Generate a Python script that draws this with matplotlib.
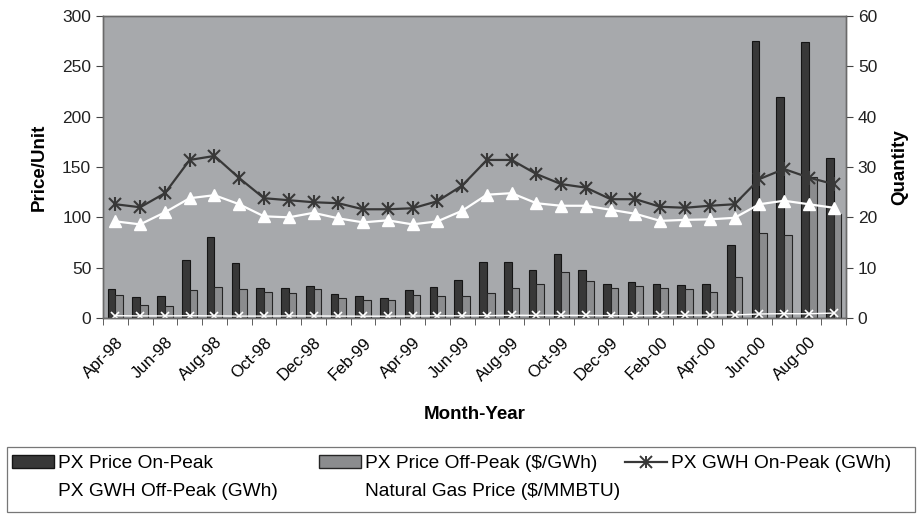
import matplotlib
matplotlib.use("Agg")
import matplotlib.pyplot as plt
import numpy as np
from matplotlib.patches import Patch, Rectangle
from matplotlib.lines import Line2D
from matplotlib.legend_handler import HandlerTuple

plt.rcParams['font.family'] = ['Liberation Sans', 'DejaVu Sans']

months = ["Apr-98", "May-98", "Jun-98", "Jul-98", "Aug-98", "Sep-98", "Oct-98", "Nov-98",
          "Dec-98", "Jan-99", "Feb-99", "Mar-99", "Apr-99", "May-99", "Jun-99", "Jul-99",
          "Aug-99", "Sep-99", "Oct-99", "Nov-99", "Dec-99", "Jan-00", "Feb-00", "Mar-00",
          "Apr-00", "May-00", "Jun-00", "Jul-00", "Aug-00", "Sep-00"]

# Prices (left axis)
price_on_peak = [28.5, 20.5, 21.5, 58, 80.5, 55, 30, 30, 31.5, 24, 21.5, 19.5,
                 28, 31, 38, 56, 56, 47.5, 64, 47.5, 33.5, 35.5, 33.5, 32.5,
                 34, 73, 275, 220, 274, 159]
price_off_peak = [22.5, 12.5, 12, 28, 30.5, 29, 26, 24.5, 28.5, 20, 18, 17.5,
                  22.5, 21.5, 22, 25, 29.5, 33.5, 46, 36.5, 30, 31.5, 29.5, 28.5,
                  26, 41, 84, 82, 140, 103]
gas_price = [2.3, 2.1, 2.1, 2.3, 2.1, 1.9, 1.9, 2.1, 2.0, 1.9, 1.8, 1.8,
             2.0, 2.2, 2.2, 2.3, 2.7, 2.6, 2.6, 2.5, 2.3, 2.3, 2.6, 2.7,
             2.9, 3.0, 4.0, 4.3, 4.2, 4.9]

# Energy quantities (right axis)
gwh_on_peak = [22.6, 22.0, 24.8, 31.4, 32.2, 27.8, 23.8, 23.4, 23.0, 22.8, 21.6, 21.6,
               21.8, 23.2, 26.3, 31.4, 31.4, 28.6, 26.6, 25.9, 23.6, 23.6, 22.1, 21.9,
               22.3, 22.6, 27.6, 29.6, 27.9, 26.6]
gwh_off_peak = [19.2, 18.6, 21.0, 23.8, 24.4, 22.6, 20.2, 20.0, 20.9, 19.8, 19.0, 19.4,
                18.6, 19.2, 21.3, 24.5, 24.8, 22.8, 22.3, 22.3, 21.5, 20.7, 19.3, 19.5,
                19.6, 19.9, 22.6, 23.3, 22.6, 21.9]

tick_labels = months[::2]

fig = plt.figure(figsize=(9.18, 5.16), dpi=100)
ax = fig.add_axes([103/918, 1-318/516, (846-103)/918, (318-16)/516])
ax2 = ax.twinx()

bg = '#a7a9ac'
ax.set_facecolor(bg)
x = np.arange(len(months))
w = 0.31
dark = '#383838'
light = '#8b8c8e'
ax.bar(x - w/2, price_on_peak, width=w, color=dark, edgecolor='#151515', linewidth=0.8, zorder=2)
ax.bar(x + w/2, price_off_peak, width=w, color=light, edgecolor='#262626', linewidth=0.8, zorder=2)
ax.plot(x, gas_price, color='white', lw=1.0, marker='x', ms=6, mew=1.2, zorder=4)

line_col = '#383838'
ax2.plot(x, gwh_on_peak, color=line_col, lw=1.6, marker='x', ms=9, mew=1.5, zorder=3)
ax2.plot(x, gwh_on_peak, color=line_col, lw=0, marker='|', ms=10, mew=1.5, zorder=3)
ax2.plot(x, gwh_off_peak, color='white', lw=1.6, marker='^', ms=8, mfc='white', mec='white', zorder=3)

ax.set_xlim(-0.5, len(months) - 0.5)
ax.set_ylim(0, 300)
ax2.set_ylim(0, 60)
ax.set_yticks(np.arange(0, 301, 50))
ax2.set_yticks(np.arange(0, 61, 10))

ax.set_xticks(x[::2])
ax.set_xticklabels(tick_labels, rotation=45, ha='right', rotation_mode='anchor', fontsize=12)
ax.set_xticks(np.arange(-0.5, len(months), 1.0), minor=True)
ax.tick_params(axis='x', which='major', length=0, pad=12)
ax.tick_params(axis='x', which='minor', length=5, color='#444', direction='out')
ax.tick_params(axis='y', labelsize=12.5, length=5, color='#444', colors='#222')
ax2.tick_params(axis='y', labelsize=12.5, length=5, color='#444', colors='#222')
for a in (ax, ax2):
    for s in a.spines.values():
        s.set_color('#6a6a6a')
        s.set_linewidth(1.0)
ax.spines['bottom'].set_color('#444')

ax.set_ylabel('Price/Unit', fontsize=13.5, fontweight='bold', labelpad=10)
ax2.set_ylabel('Quantity', fontsize=13.5, fontweight='bold', labelpad=10)
ax.set_xlabel('Month-Year', fontsize=13.5, fontweight='bold', labelpad=16)

# Legend box spanning the bottom of the figure
fig.patches.append(Rectangle((7/918, 1-512/516), (915-7)/918, (512-447)/516,
                             transform=fig.transFigure, fill=False,
                             edgecolor='#777', linewidth=0.9))

h_on = Patch(facecolor=dark, edgecolor='#151515')
h_off = Patch(facecolor=light, edgecolor='#262626')
h_gwh_on = (Line2D([], [], color=line_col, lw=1.6, marker='x', ms=8, mew=1.4),
            Line2D([], [], color=line_col, lw=0, marker='|', ms=9, mew=1.4))
h_gwh_off = Line2D([], [], color='white', lw=1.6, marker='^', ms=8, mfc='white', mec='white')
h_gas = Line2D([], [], color='white', lw=1.0, marker='x', ms=6, mew=1.2)

common = dict(frameon=False, fontsize=13.8, handlelength=2.2, handletextpad=0.2,
              labelspacing=0.55, borderaxespad=0, borderpad=0,
              handler_map={tuple: HandlerTuple(ndivide=1)})
fig.legend([h_on, h_gwh_off], ['PX Price On-Peak', 'PX GWH Off-Peak (GWh)'],
           loc='upper left', bbox_to_anchor=(12/918, 1-455/516), **common)
fig.legend([h_off, h_gas], ['PX Price Off-Peak ($/GWh)', 'Natural Gas Price ($/MMBTU)'],
           loc='upper left', bbox_to_anchor=(319/918, 1-455/516), **common)
fig.legend([h_gwh_on], ['PX GWH On-Peak (GWh)'],
           loc='upper left', bbox_to_anchor=(625/918, 1-455/516), **common)

fig.savefig('out.png', dpi=100)
